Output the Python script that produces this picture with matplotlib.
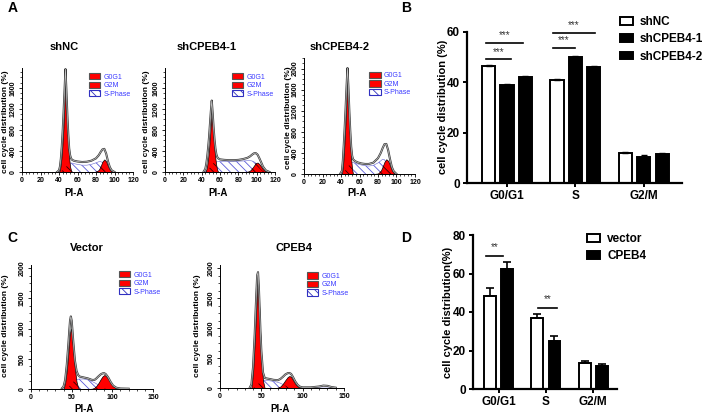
import numpy as np
import matplotlib.pyplot as plt
from matplotlib.patches import Patch
from matplotlib.ticker import AutoMinorLocator

plt.rcParams['font.family'] = ['Liberation Sans', 'DejaVu Sans']
plt.rcParams['hatch.linewidth'] = 0.6

W, H = 708, 415

## Data: flow cytometry histograms
# panel A, shNC
nc_x = [38, 40, 41, 42, 43, 44, 45, 46, 47, 48, 49, 50, 51, 52, 53, 54, 56, 60, 65, 70, 75, 80, 83, 85, 87, 89, 91, 93, 95, 97, 100]
nc_g1 = [0, 0, 40, 150, 330, 580, 900, 1300, 1720, 1300, 880, 520, 260, 100, 30, 0, 0, 0, 0, 0, 0, 0, 0, 0, 0, 0, 0, 0, 0, 0, 0]
nc_s = [0, 0, 5, 10, 20, 35, 50, 65, 85, 105, 125, 145, 160, 168, 172, 170, 160, 145, 130, 130, 145, 175, 195, 200, 180, 140, 90, 45, 15, 0, 0]
nc_g2 = [0, 0, 0, 0, 0, 0, 0, 0, 0, 0, 0, 0, 0, 0, 0, 0, 0, 0, 0, 0, 0, 5, 40, 110, 200, 240, 200, 110, 40, 10, 0]
nc_tot = [0, 30, 100, 250, 480, 780, 1150, 1550, 1960, 1550, 1100, 720, 450, 320, 260, 235, 215, 200, 190, 195, 215, 260, 320, 380, 430, 440, 350, 200, 90, 30, 0]

# panel A, shCPEB4-1
k1_x = [42, 44, 45, 46, 47, 48, 49, 50, 51, 52, 53, 54, 55, 56, 57, 58, 60, 65, 70, 75, 80, 85, 90, 93, 95, 97, 99, 101, 103, 105, 107, 110, 114]
k1_g1 = [0, 0, 40, 120, 250, 420, 650, 900, 1180, 900, 640, 420, 250, 120, 40, 0, 0, 0, 0, 0, 0, 0, 0, 0, 0, 0, 0, 0, 0, 0, 0, 0, 0]
k1_s = [0, 5, 15, 30, 45, 65, 85, 110, 135, 155, 170, 180, 188, 192, 195, 197, 198, 198, 198, 200, 205, 210, 215, 215, 210, 195, 170, 130, 85, 45, 15, 0, 0]
k1_g2 = [0, 0, 0, 0, 0, 0, 0, 0, 0, 0, 0, 0, 0, 0, 0, 0, 0, 0, 0, 0, 0, 0, 5, 30, 70, 120, 170, 180, 150, 100, 50, 10, 0]
k1_tot = [0, 60, 150, 280, 450, 650, 900, 1150, 1360, 1120, 850, 620, 450, 340, 285, 260, 240, 230, 225, 225, 230, 245, 270, 300, 330, 355, 360, 330, 260, 180, 100, 30, 0]

# panel A, shCPEB4-2
k2_x = [39, 41, 42, 43, 44, 45, 46, 47, 48, 49, 50, 51, 52, 53, 55, 58, 62, 66, 70, 75, 80, 83, 85, 87, 89, 91, 93, 95, 97, 100]
k2_g1 = [0, 0, 120, 350, 650, 1000, 1400, 1830, 1400, 950, 580, 280, 90, 0, 0, 0, 0, 0, 0, 0, 0, 0, 0, 0, 0, 0, 0, 0, 0, 0]
k2_s = [0, 5, 15, 30, 50, 75, 100, 125, 150, 175, 195, 210, 215, 215, 210, 190, 170, 158, 150, 165, 210, 250, 280, 270, 220, 150, 80, 30, 10, 0]
k2_g2 = [0, 0, 0, 0, 0, 0, 0, 0, 0, 0, 0, 0, 0, 0, 0, 0, 0, 0, 0, 0, 10, 60, 140, 230, 280, 250, 160, 70, 20, 0]
k2_tot = [0, 60, 250, 550, 880, 1250, 1650, 2010, 1650, 1200, 820, 520, 350, 280, 245, 220, 200, 190, 190, 215, 300, 400, 490, 565, 570, 450, 280, 130, 50, 0]

# panel C, Vector
v_x = [38, 40, 42, 44, 46, 47, 48, 49, 50, 51, 52, 54, 56, 58, 60, 65, 70, 75, 78, 80, 83, 86, 88, 90, 92, 95, 98, 101, 105, 110, 120]
v_g1 = [0, 0, 100, 300, 600, 780, 930, 1000, 930, 780, 620, 330, 120, 20, 0, 0, 0, 0, 0, 0, 0, 0, 0, 0, 0, 0, 0, 0, 0, 0, 0]
v_s = [0, 0, 0, 10, 30, 45, 60, 75, 90, 105, 120, 140, 155, 162, 165, 165, 150, 125, 105, 90, 65, 35, 20, 10, 3, 0, 0, 0, 0, 0, 0]
v_g2 = [0, 0, 0, 0, 0, 0, 0, 0, 0, 0, 0, 0, 0, 0, 0, 0, 0, 5, 20, 45, 100, 170, 210, 230, 220, 170, 100, 45, 10, 0, 0]
v_tot = [10, 40, 150, 400, 750, 950, 1130, 1200, 1130, 960, 780, 470, 300, 230, 205, 190, 175, 150, 150, 170, 210, 245, 258, 262, 245, 190, 115, 55, 20, 8, 5]

# panel C, CPEB4
c_x = [36, 38, 40, 42, 43, 44, 45, 46, 47, 48, 49, 50, 52, 54, 56, 60, 65, 70, 73, 76, 79, 82, 84, 86, 88, 91, 94, 97, 100, 110, 120, 125, 130, 135, 140]
c_g1 = [0, 0, 250, 750, 1050, 1350, 1650, 1780, 1500, 1150, 800, 500, 120, 0, 0, 0, 0, 0, 0, 0, 0, 0, 0, 0, 0, 0, 0, 0, 0, 0, 0, 0, 0, 0, 0]
c_s = [0, 0, 0, 10, 20, 35, 50, 65, 80, 95, 108, 118, 128, 130, 128, 120, 110, 95, 80, 60, 40, 20, 10, 3, 0, 0, 0, 0, 0, 0, 0, 0, 0, 0, 0]
c_g2 = [0, 0, 0, 0, 0, 0, 0, 0, 0, 0, 0, 0, 0, 0, 0, 0, 0, 5, 25, 70, 130, 185, 200, 185, 140, 70, 25, 5, 0, 0, 0, 0, 0, 0, 0]
c_tot = [5, 60, 350, 900, 1250, 1580, 1880, 1930, 1680, 1300, 920, 620, 260, 170, 160, 150, 135, 130, 150, 185, 225, 248, 250, 235, 190, 110, 50, 20, 10, 10, 25, 40, 35, 15, 5]

## Data: bar charts
phases = ['G0/G1', 'S', 'G2/M']
b_shNC = [46.5, 41, 12]
b_sh1 = [39, 50, 10.5]
b_sh2 = [42, 46, 11.5]
b_err = [0.5, 0.5, 0.5]

d_vector = [48.5, 37, 13.5]
d_cpeb4 = [62.5, 25, 12]
d_vector_err = [4, 2, 1.2]
d_cpeb4_err = [3.5, 2.5, 1.2]


fig = plt.figure(figsize=(W / 100, H / 100), dpi=100)


def px_axes(l, t, r, b):
    return fig.add_axes([l / W, 1 - b / H, (r - l) / W, (b - t) / H])


def ftext(x, y, s, **kw):
    fig.text(x / W, 1 - y / H, s, **kw)


def draw_hist(ax, x, g1, s, g2, tot, xmax, xstep, ymax, ystep, leg_xy):
    x = np.array(x)
    g1, s, g2, tot = map(np.array, (g1, s, g2, tot))
    hatch = '\\\\\\\\'
    ax.fill_between(x, 0, s, facecolor='white', edgecolor='#5a5ad8', hatch=hatch, linewidth=0, zorder=1)
    ax.plot(x, s, color='#6a6ad0', lw=0.4, zorder=1)
    for g in (g1, g2):
        ax.fill_between(x, 0, g, facecolor='#ff0000', edgecolor='black', linewidth=0.5, zorder=2)
        ax.fill_between(x, 0, np.minimum(s, g), facecolor='none', edgecolor='#300000',
                        hatch=hatch, linewidth=0, zorder=3)
    ax.plot(x, tot, color='#3a3a3a', lw=1.5, zorder=4)
    ax.plot(x, tot, color='#c8c8c8', lw=0.5, zorder=5)

    ax.set_xlim(0, xmax)
    ax.set_ylim(0, ymax)
    ax.set_xticks(np.arange(0, xmax + 1, xstep))
    ax.set_yticks(np.arange(0, ymax, ystep))
    ax.xaxis.set_minor_locator(AutoMinorLocator(5))
    ax.yaxis.set_minor_locator(AutoMinorLocator(4))
    ax.tick_params(which='major', length=2.5, width=0.6, labelsize=5, pad=1.2)
    ax.tick_params(which='minor', length=1.2, width=0.5)
    for lab in ax.get_xticklabels() + ax.get_yticklabels():
        lab.set_fontweight('bold')
    for lab in ax.get_yticklabels():
        lab.set_rotation(90)
        lab.set_va('center')
    for side in ('top', 'right'):
        ax.spines[side].set_visible(False)
    for side in ('left', 'bottom'):
        ax.spines[side].set_linewidth(0.7)

    handles = [Patch(facecolor='#ff0000', edgecolor='#555555', lw=0.8),
               Patch(facecolor='#ff0000', edgecolor='#555555', lw=0.8),
               Patch(facecolor='white', edgecolor='#3030c0', hatch=hatch, lw=0.8)]
    ax.legend(handles, ['G0G1', 'G2M', 'S-Phase'], loc='upper left', bbox_to_anchor=leg_xy,
              frameon=False, fontsize=5, labelcolor='#3a3aff', handlelength=1.6,
              handleheight=1.0, labelspacing=0.15, handletextpad=0.5, borderpad=0,
              borderaxespad=0)


## Panel A
axA1 = px_axes(22, 68, 133, 172)
draw_hist(axA1, nc_x, nc_g1, nc_s, nc_g2, nc_tot, 120, 20, 1980, 400, (0.6, 0.95))
axA2 = px_axes(165, 68, 275, 172)
draw_hist(axA2, k1_x, k1_g1, k1_s, k1_g2, k1_tot, 120, 20, 1980, 400, (0.61, 0.95))
axA3 = px_axes(304, 58, 415, 174)
draw_hist(axA3, k2_x, k2_g1, k2_s, k2_g2, k2_tot, 120, 20, 2200, 400, (0.59, 0.88))

for cx, t in [(64, 'shNC'), (207, 'shCPEB4-1'), (340, 'shCPEB4-2')]:
    ftext(cx, 47, t, fontsize=8, fontweight='bold', ha='center', va='center')
for lx, cy in [(6, 122), (146, 122), (289, 118)]:
    ftext(lx, cy, 'cell cycle distribution (%)', fontsize=6, fontweight='bold',
          rotation=90, ha='center', va='center')
for cx in (74, 218, 357):
    ftext(cx, 193, 'PI-A', fontsize=7, fontweight='bold', ha='center', va='center')

## Panel C
axC1 = px_axes(31, 265, 153, 389)
draw_hist(axC1, v_x, v_g1, v_s, v_g2, v_tot, 150, 50, 2050, 500, (0.72, 0.95))
axC2 = px_axes(220, 265, 344, 388)
draw_hist(axC2, c_x, c_g1, c_s, c_g2, c_tot, 150, 50, 2050, 500, (0.70, 0.94))

ftext(87, 248, 'Vector', fontsize=8, fontweight='bold', ha='center', va='center')
ftext(294, 248, 'CPEB4', fontsize=8, fontweight='bold', ha='center', va='center')
for lx in (6, 198):
    ftext(lx, 326, 'cell cycle distribution (%)', fontsize=6, fontweight='bold',
          rotation=90, ha='center', va='center')
for cx in (84, 280):
    ftext(cx, 409, 'PI-A', fontsize=7, fontweight='bold', ha='center', va='center')


def style_bar_axes(ax, ymax, ystep):
    ax.set_ylim(0, ymax)
    ax.set_yticks(np.arange(0, ymax + 1, ystep))
    ax.set_xticks(range(len(phases)))
    ax.set_xticklabels(phases)
    ax.tick_params(length=3, width=1.4, labelsize=8.5, pad=2)
    for lab in ax.get_xticklabels() + ax.get_yticklabels():
        lab.set_fontweight('bold')
    for side in ('top', 'right'):
        ax.spines[side].set_visible(False)
    for side in ('left', 'bottom'):
        ax.spines[side].set_linewidth(1.6)


def sig(ax, x0, x1, y, ty, txt):
    ax.plot([x0, x1], [y, y], color='black', lw=1.2, clip_on=False)
    ax.text((x0 + x1) / 2, ty, txt, ha='center', va='center', fontsize=7, color='#333333')


def square_legend(ax, labels, colors, x, y):
    handles = [Patch(facecolor=c, edgecolor='black', lw=1.4) for c in colors]
    ax.legend(handles, labels, loc='upper left', bbox_to_anchor=(x / W, 1 - y / H),
              bbox_transform=fig.transFigure, frameon=False,
              prop=dict(size=8.5, weight='bold'), handlelength=1.1, handleheight=0.65,
              labelspacing=0.45, handletextpad=0.6, borderpad=0, borderaxespad=0)


## Panel B
axB = px_axes(467, 32, 682, 183)
pos = np.arange(len(phases))
bw = 0.19
for off, vals, col in [(-0.27, b_shNC, 'white'), (0, b_sh1, 'black'), (0.27, b_sh2, 'black')]:
    axB.bar(pos + off, vals, bw, color=col, edgecolor='black', linewidth=1.4,
            yerr=[np.zeros(3), b_err], capsize=2.5,
            error_kw=dict(elinewidth=1, capthick=1), zorder=2)
axB.set_xlim(-0.584, 2.555)
style_bar_axes(axB, 60, 20)
sig(axB, -0.31, 0.054, 49.2, 52.2, '***')
sig(axB, -0.31, 0.23, 55.6, 58.8, '***')
sig(axB, 0.667, 0.993, 53.6, 56.6, '***')
sig(axB, 0.667, 1.285, 59.6, 62.8, '***')
square_legend(axB, ['shNC', 'shCPEB4-1', 'shCPEB4-2'], ['white', 'black', 'black'], 620, 16)
ftext(443, 107, 'cell cycle distribution (%)', fontsize=8, fontweight='bold',
      rotation=90, ha='center', va='center')

## Panel D
axD = px_axes(473, 235, 617, 389)
bw = 0.25
for off, vals, err, col in [(-0.18, d_vector, d_vector_err, 'white'),
                            (0.18, d_cpeb4, d_cpeb4_err, 'black')]:
    axD.bar(pos + off, vals, bw, color=col, edgecolor='black', linewidth=1.4,
            yerr=[np.zeros(3), err], capsize=3,
            error_kw=dict(elinewidth=1.2, capthick=1.2), zorder=2)
axD.set_xlim(-0.538, 2.5)
style_bar_axes(axD, 80, 20)
sig(axD, -0.264, 0.095, 69.1, 73.8, '**')
sig(axD, 0.833, 1.234, 42.1, 46.8, '**')
square_legend(axD, ['vector', 'CPEB4'], ['white', 'black'], 587, 233)
ftext(448, 312, 'cell cycle distribution(%)', fontsize=8, fontweight='bold',
      rotation=90, ha='center', va='center')

## Panel letters
for x, y, t in [(13, 8, 'A'), (406, 8, 'B'), (12, 238, 'C'), (406, 238, 'D')]:
    ftext(x, y, t, fontsize=10, fontweight='bold', ha='center', va='center')

plt.savefig('out.png', dpi=100)
